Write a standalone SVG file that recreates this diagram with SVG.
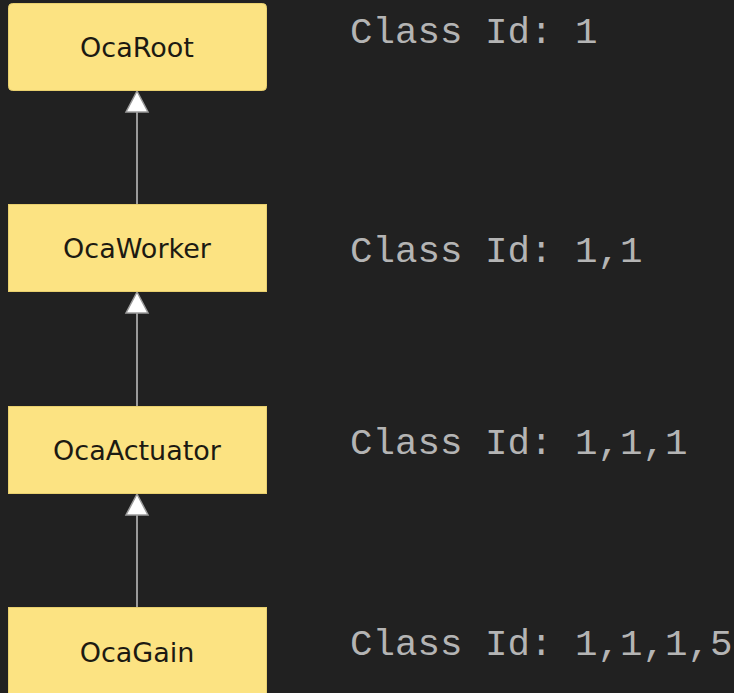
<svg xmlns="http://www.w3.org/2000/svg" width="734" height="693" viewBox="0 0 734 693">
<style>
.box{fill:#fce382;stroke:#e8cf6e;stroke-width:1}
.lbl{font-family:"DejaVu Sans",Verdana,sans-serif;font-size:27px;fill:#1c1a12;text-anchor:middle}
.id{font-family:"Liberation Mono","Courier New",monospace;font-size:37.5px;fill:#b4b4b4}
.conn{stroke:#9a9a9a;stroke-width:2;fill:none}
.head{fill:#ffffff;stroke:#9a9a9a;stroke-width:1.5;stroke-linejoin:miter}
</style>
<rect width="734" height="693" fill="#212121"/>
<g id="connectors">
<line class="conn" x1="137" y1="204" x2="137" y2="112"/>
<polygon class="head" points="137,91 126,112 148,112"/>
<line class="conn" x1="137" y1="406" x2="137" y2="313"/>
<polygon class="head" points="137,292 126,313 148,313"/>
<line class="conn" x1="137" y1="607" x2="137" y2="515"/>
<polygon class="head" points="137,494 126,515 148,515"/>
</g>
<g id="OcaRoot">
<rect class="box" x="8.5" y="3.5" width="258" height="87" rx="4"/>
<text class="lbl" x="137" y="57">OcaRoot</text>
</g>
<g id="OcaWorker">
<rect class="box" x="8.5" y="204.5" width="258" height="87"/>
<text class="lbl" x="137" y="258">OcaWorker</text>
</g>
<g id="OcaActuator">
<rect class="box" x="8.5" y="406.5" width="258" height="87"/>
<text class="lbl" x="137" y="460">OcaActuator</text>
</g>
<g id="OcaGain">
<rect class="box" x="8.5" y="607.5" width="258" height="90"/>
<text class="lbl" x="137" y="662">OcaGain</text>
</g>
<g id="ids">
<text class="id" x="350" y="43">Class Id: 1</text>
<text class="id" x="350" y="262">Class Id: 1,1</text>
<text class="id" x="350" y="454">Class Id: 1,1,1</text>
<text class="id" x="350" y="655">Class Id: 1,1,1,5</text>
</g>
</svg>
